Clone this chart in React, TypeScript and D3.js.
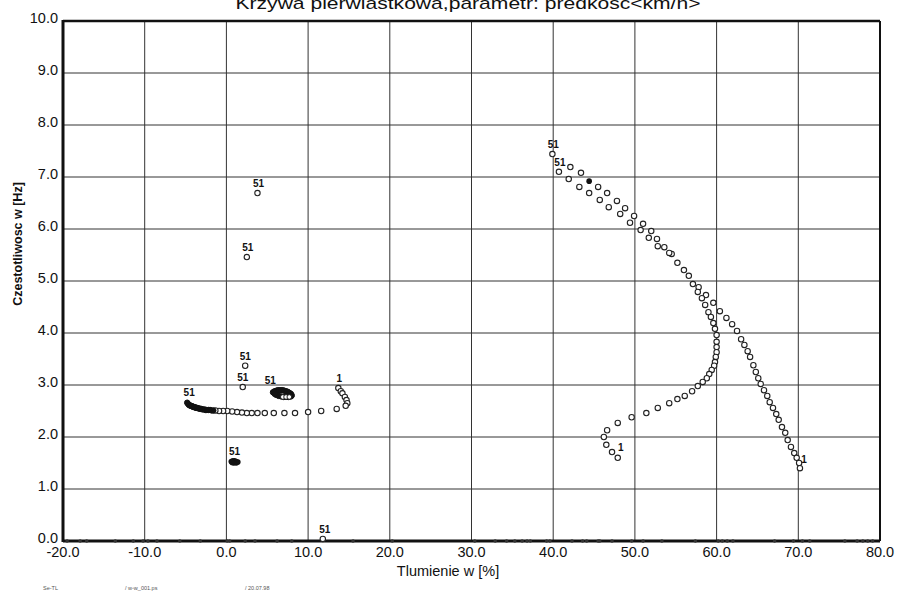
import React from "react";
import * as d3 from "d3";

// Krzywa pierwiastkowa - root locus points, [tlumienie %, czestotliwosc Hz]
const outerBranch: [number, number][] = [
  [39.9, 7.44], [42.1, 7.19], [43.4, 7.08], [45.5, 6.81], [46.6, 6.69], [47.8, 6.54],
  [48.8, 6.4], [49.9, 6.25], [51.0, 6.1], [52.0, 5.96], [52.7, 5.81], [53.6, 5.65],
  [54.5, 5.52], [55.2, 5.35], [56.6, 5.1], [57.8, 4.88], [58.7, 4.73], [59.6, 4.58],
  [60.4, 4.42], [61.2, 4.29], [61.9, 4.17], [62.5, 4.04], [63.0, 3.88], [63.4, 3.77],
  [63.8, 3.65], [64.1, 3.54], [64.5, 3.38], [64.8, 3.25], [65.1, 3.13], [65.4, 3.02],
  [65.8, 2.9], [66.2, 2.79], [66.5, 2.67], [66.9, 2.56], [67.3, 2.44], [67.6, 2.33],
  [68.0, 2.19], [68.4, 2.08], [68.7, 1.94], [69.1, 1.81], [69.5, 1.69], [69.8, 1.6],
  [70.1, 1.5], [70.2, 1.4],
];

const innerBranch: [number, number][] = [
  [40.7, 7.1], [41.9, 6.96], [43.2, 6.81], [44.4, 6.69], [45.7, 6.56], [46.8, 6.42],
  [48.2, 6.29], [49.4, 6.12], [50.7, 5.98], [51.7, 5.83], [52.8, 5.67], [54.2, 5.54],
  [56.0, 5.21], [57.1, 4.94], [57.7, 4.79], [58.2, 4.67], [58.6, 4.54], [59.0, 4.4],
  [59.3, 4.31], [59.6, 4.19], [59.8, 4.08], [60.0, 3.96], [60.0, 3.83], [60.0, 3.73],
  [60.0, 3.63], [59.9, 3.54], [59.8, 3.44], [59.7, 3.37], [59.4, 3.29], [59.1, 3.21],
  [58.8, 3.13], [58.3, 3.06], [57.7, 2.98], [57.0, 2.88], [56.1, 2.79], [55.2, 2.73],
  [54.2, 2.65], [52.8, 2.56], [51.4, 2.46], [49.6, 2.38], [47.9, 2.27], [46.6, 2.13],
  [46.2, 2.0], [46.5, 1.85], [47.2, 1.71], [47.9, 1.6],
];

const leftBranch: [number, number][] = [
  [13.7, 2.94], [14.0, 2.88], [14.2, 2.84], [14.5, 2.77], [14.7, 2.71], [14.8, 2.65],
  [14.6, 2.6], [13.5, 2.54], [11.6, 2.5], [10.0, 2.48], [8.4, 2.46], [7.1, 2.46],
  [5.8, 2.46], [4.7, 2.46], [3.8, 2.46], [3.1, 2.46], [2.5, 2.46], [1.9, 2.47],
  [1.3, 2.48], [0.7, 2.49], [0.1, 2.5], [-0.4, 2.5], [-0.9, 2.5], [-1.35, 2.51],
];

// dense, nearly solid part of the left branch
const leftDense: [number, number][] = [
  [-1.6, 2.51], [-1.8, 2.51], [-2.0, 2.52], [-2.2, 2.52], [-2.4, 2.52], [-2.55, 2.52],
  [-2.7, 2.53], [-2.9, 2.53], [-3.05, 2.54], [-3.2, 2.54], [-3.35, 2.55], [-3.45, 2.55],
  [-3.6, 2.56], [-3.7, 2.56], [-3.8, 2.57], [-3.9, 2.57], [-4.0, 2.58], [-4.1, 2.58],
  [-4.2, 2.59], [-4.3, 2.6], [-4.4, 2.6], [-4.5, 2.61], [-4.6, 2.62], [-4.7, 2.64],
  [-4.8, 2.66],
];

const smallLoop: [number, number][] = [
  [5.7, 2.86], [5.9, 2.88], [6.1, 2.89], [6.3, 2.9], [6.5, 2.9], [6.7, 2.9], [6.9, 2.9],
  [7.1, 2.89], [7.3, 2.88], [7.5, 2.87], [7.7, 2.85], [7.9, 2.83], [8.0, 2.8], [7.9, 2.78],
  [7.6, 2.77], [7.3, 2.77], [7.0, 2.77], [6.7, 2.78], [6.4, 2.79], [6.1, 2.81], [5.9, 2.83],
];

const loopOpen: [number, number][] = [
  [6.9, 2.77], [7.3, 2.77], [7.7, 2.77],
];

const filledCluster: [number, number][] = [
  [0.6, 1.53], [0.8, 1.54], [1.0, 1.54], [1.2, 1.53], [1.4, 1.52], [1.2, 1.5],
  [0.9, 1.5], [0.7, 1.51], [44.4, 6.92],
];

const singlePoints: [number, number][] = [
  [2.0, 2.96], [2.3, 3.37], [3.8, 6.69], [2.5, 5.46], [11.8, 0.04],
];

const realRoots: number[] = [
  -19.5, -17.9, -17.1, -13.6, -11.4, -10.2, -9.6, -8.5, -5.7, -3.2, 0.1, 0.4, 2.3, 3.5,
  6.2, 8.0, 15.5, 20.3, 30.4, 32.9, 34.3, 35.3, 36.2, 36.8, 37.2, 39.2, 39.6, 42.3, 43.6,
  44.1, 45.5, 45.7, 47.2, 49.6, 51.0, 53.3, 57.4, 60.2, 60.7, 61.3, 62.0, 67.1, 69.4,
  70.5, 71.4, 75.7, 77.2, 77.9, 78.5, 79.1,
];

// speed labels: [x, y, text, dx, dy] anchored at a point
const speedLabels: [number, number, string, number, number][] = [
  [39.9, 7.44, "51", 1, -6],
  [40.7, 7.1, "51", 1, -6],
  [-4.8, 2.66, "51", 2, -7],
  [13.7, 2.94, "1", 1, -6],
  [6.1, 2.89, "51", -6, -7],
  [2.0, 2.96, "51", 0, -6],
  [2.3, 3.37, "51", 0, -6],
  [1.0, 1.54, "51", 0, -6],
  [3.8, 6.69, "51", 1, -6],
  [2.5, 5.46, "51", 1, -6],
  [11.8, 0.04, "51", 2, -6],
  [47.9, 1.6, "1", 3, -7],
  [70.2, 1.4, "1", 4, -5],
];

const xTicks = [-20, -10, 0, 10, 20, 30, 40, 50, 60, 70, 80];
const yTicks = [0, 1, 2, 3, 4, 5, 6, 7, 8, 9, 10];

const W = 903;
const H = 598;

export default function App() {
  const x = d3.scaleLinear().domain([-20, 80]).range([63, 880]);
  const y = d3.scaleLinear().domain([0, 10]).range([541, 21]);
  const fmt = (v: number) => v.toFixed(1);
  const font = "Liberation Sans, Arial, sans-serif";

  const openSeries = [outerBranch, innerBranch, leftBranch, singlePoints];

  return (
    <svg width={W} height={H} style={{ position: "absolute", left: 0, top: 0, background: "#fff" }} fontFamily={font}>
      <text x={468} y={9} fontSize={17} textAnchor="middle" textLength={465} lengthAdjust="spacingAndGlyphs" fill="#111">
        Krzywa pierwiastkowa,parametr:  predkosc&lt;km/h&gt;
      </text>

      {/* grid */}
      {xTicks.map((t) => (
        <line key={"gx" + t} x1={x(t)} x2={x(t)} y1={y(10)} y2={y(0)} stroke="#333" strokeWidth={1} />
      ))}
      {yTicks.map((t) => (
        <line key={"gy" + t} x1={x(-20)} x2={x(80)} y1={y(t)} y2={y(t)} stroke="#333" strokeWidth={1} />
      ))}

      {/* frame */}
      <line x1={x(-20)} x2={x(80)} y1={y(10)} y2={y(10)} stroke="#111" strokeWidth={2.5} />
      <line x1={x(80)} x2={x(80)} y1={y(10)} y2={y(0)} stroke="#111" strokeWidth={2} />
      <line x1={x(-20)} x2={x(-20)} y1={y(10) - 1} y2={y(0) + 1} stroke="#111" strokeWidth={3} />
      <line x1={x(-20)} x2={x(80)} y1={y(0)} y2={y(0)} stroke="#111" strokeWidth={3} />

      {/* tick labels */}
      {xTicks.map((t) => (
        <text key={"tx" + t} x={x(t)} y={557} fontSize={14.5} textAnchor="middle" fill="#111">
          {fmt(t)}
        </text>
      ))}
      {yTicks.map((t) => (
        <text key={"ty" + t} x={58} y={y(t) + 2} fontSize={14.5} textAnchor="end" fill="#111">
          {fmt(t)}
        </text>
      ))}

      <text x={448} y={576} fontSize={14.5} textAnchor="middle" fill="#111">
        Tlumienie w [%]
      </text>
      <text transform="translate(22,244) rotate(-90)" fontSize={12.5} textAnchor="middle" fill="#111" fontWeight={600}>
        Czestotliwosc w [Hz]
      </text>

      {/* real roots on the axis */}
      {realRoots.map((v, i) => (
        <circle key={"r" + i} cx={x(v)} cy={y(0)} r={1.8} fill="#333" />
      ))}

      {/* open markers */}
      {openSeries.map((s, si) =>
        s.map((d, i) => (
          <circle key={"o" + si + "-" + i} cx={x(d[0])} cy={y(d[1])} r={2.7} fill="#fff" stroke="#222" strokeWidth={1.1} />
        ))
      )}
      {/* dense parts drawn as overlapping dark markers */}
      {[leftDense, smallLoop].map((s, si) =>
        s.map((d, i) => (
          <circle key={"d" + si + "-" + i} cx={x(d[0])} cy={y(d[1])} r={2.7} fill="#111" stroke="#111" strokeWidth={1} />
        ))
      )}
      {loopOpen.map((d, i) => (
        <circle key={"lo" + i} cx={x(d[0])} cy={y(d[1])} r={2.3} fill="#fff" stroke="#222" strokeWidth={1} />
      ))}
      {filledCluster.map((d, i) => (
        <circle key={"f" + i} cx={x(d[0])} cy={y(d[1])} r={2.8} fill="#111" />
      ))}

      {speedLabels.map((l, i) => (
        <text key={"l" + i} x={x(l[0]) + l[3]} y={y(l[1]) + l[4]} fontSize={10} fontWeight="bold" textAnchor="middle" fill="#111">
          {l[2]}
        </text>
      ))}

      {/* footer */}
      <text x={43} y={590} fontSize={5.5} fill="#555">Se-TL</text>
      <text x={125} y={590} fontSize={5.5} fill="#555">/ w-w_001.ps</text>
      <text x={245} y={590} fontSize={5.5} fill="#555">/ 20.07.98</text>
    </svg>
  );
}
